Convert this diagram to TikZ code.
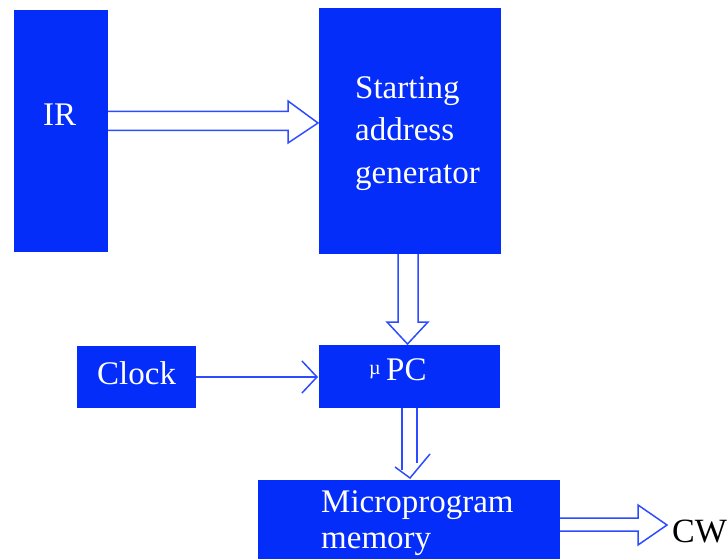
\documentclass[tikz,border=0pt]{standalone}
\usepackage{fontspec}
\setmainfont{Liberation Serif}
\usetikzlibrary{calc,arrows.meta}
\definecolor{boxblue}{RGB}{5,45,250}
\definecolor{lineblue}{RGB}{45,75,255}
\tikzset{
  blk/.style={draw=none, fill=boxblue, inner sep=0pt, outer sep=0pt},
  wtxt/.style={text=white, inner sep=0pt, anchor=base west, font=\fontsize{33}{42}\selectfont},
  btxt/.style={text=black, inner sep=0pt, anchor=base west, font=\fontsize{34}{42}\selectfont},
  mutxt/.style={text=white, inner sep=0pt, anchor=base west, font=\fontsize{20}{22}\selectfont},
  conn/.style={draw=lineblue, line width=1.5pt, line join=miter},
}
\begin{document}
\begin{tikzpicture}[x=1pt,y=-1pt]
\useasboundingbox[fill=white] (0,0) rectangle (728,559);
% boxes
\node[blk, minimum width=94pt, minimum height=242pt] (ir) at (61,131) {};
\node[blk, minimum width=182pt, minimum height=246pt] (sag) at (410,131) {};
\node[blk, minimum width=119pt, minimum height=62pt] (clk) at (136.5,377) {};
\node[blk, minimum width=181pt, minimum height=63pt] (upc) at (409.5,376.5) {};
\node[blk, minimum width=302pt, minimum height=82pt] (mm) at (409,521) {};
% texts
\node[wtxt] (irt) at (43,125) {IR};
\node[wtxt] (sag1) at (355,99) {Starting};
\node[wtxt] (sag2) at (355,141) {address};
\node[wtxt] (sag3) at (355,183) {generator};
\node[wtxt] (clkt) at (97,384) {Clock};
\node[mutxt] (mu) at (369,374) {µ};
\node[wtxt] (pct) at (386,380) {PC};
\node[wtxt] (mm1) at (321,512) {Microprogram};
\node[wtxt] (mm2) at (321,548) {memory};
\node[btxt] (cw) at (672,542) {CW};
% IR -> starting address generator (hollow double arrow)
\draw[conn] ($(ir.east)+(0,-19.5)$) -- ($(sag.west)+(-31,-19.5)$) -- ($(sag.west)+(-31,-30)$)
  -- ($(sag.west)+(-1,-8)$) -- ($(sag.west)+(-31,12)$) -- ($(sag.west)+(-31,-0.5)$) -- ($(ir.east)+(0,-0.5)$);
% starting address generator -> uPC
\draw[conn] ($(sag.south)+(-12,0)$) -- ($(upc.north)+(-11.5,-23)$) -- ($(upc.north)+(-22.5,-23)$)
  -- ($(upc.north)+(-2,-1)$) -- ($(upc.north)+(18.5,-23)$) -- ($(upc.north)+(8.5,-23)$) -- ($(sag.south)+(8,0)$);
% Clock -> uPC
\draw[conn, -{Straight Barb[length=15pt,width=32pt,line width=1.5pt]}] (clk.east) -- ($(upc.west)+(-1,0.5)$);
% uPC -> microprogram memory
\draw[conn] ($(upc.south)+(-7.5,0)$) -- ($(mm.north)+(-7,-10)$);
\draw[conn] ($(upc.south)+(7.5,0)$) -- ($(mm.north)+(8,-17)$);
\draw[conn] ($(mm.north)+(-14,-13)$) -- ($(mm.north)+(1,-2)$) -- ($(mm.north)+(21,-26)$);
% microprogram memory -> CW
\draw[conn] ($(mm.east)+(0,-3)$) -- ($(cw.west |- mm.east)+(-34,-3)$) -- ($(cw.west |- mm.east)+(-34,-16)$)
  -- ($(cw.west |- mm.east)+(-5,4)$) -- ($(cw.west |- mm.east)+(-34,24)$) -- ($(cw.west |- mm.east)+(-34,10)$) -- ($(mm.east)+(0,10)$);
\end{tikzpicture}
\end{document}
